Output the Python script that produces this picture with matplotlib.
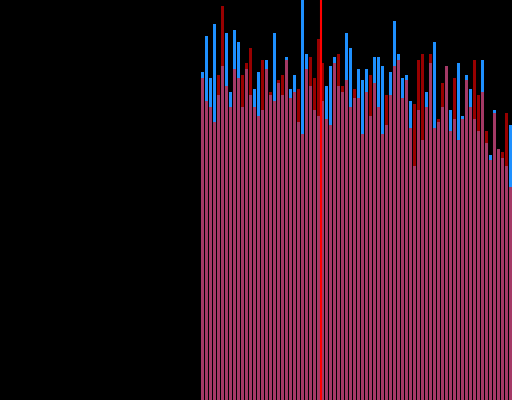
import matplotlib
matplotlib.use("Agg")
import matplotlib.pyplot as plt
import numpy as np

# pixel-height readings converted to values (0-400 scale)
blue_top = [72, 36, 78, 24, 95, 66, 33, 92, 30, 42, 107, 69, 95, 89, 72, 110, 60, 95, 33, 83,
            95, 57, 89, 75, 122, 0, 54, 86, 110, 116, 101, 86, 66, 57, 86, 92, 33, 48, 98, 69,
            80, 69, 116, 57, 57, 66, 125, 72, 21, 54, 78, 75, 101, 166, 110, 140, 92, 63, 42, 122,
            107, 66, 110, 119, 63, 116, 75, 89, 119, 131, 60, 143, 155, 110, 149, 158, 166, 125]
red_top = [78, 101, 107, 122, 75, 6, 86, 107, 69, 78, 75, 63, 48, 107, 116, 60, 69, 92, 101, 80,
           75, 60, 98, 92, 89, 134, 69, 57, 78, 39, 63, 119, 125, 63, 54, 86, 80, 107, 89, 98,
           134, 92, 75, 83, 107, 134, 95, 95, 66, 60, 98, 80, 128, 104, 60, 54, 107, 54, 128, 119,
           83, 66, 131, 78, 140, 119, 80, 107, 60, 95, 92, 131, 160, 113, 149, 152, 113, 187]

blue = [400 - v for v in blue_top]
red = [400 - v for v in red_top]
marker_x = 29.5

fig = plt.figure(figsize=(5.12, 4.0), dpi=100, facecolor="black")
ax = fig.add_axes([0, 0, 1, 1])
ax.set_facecolor("black")
x = np.arange(len(blue))
ax.bar(x, blue, width=0.75, color="#1E90FF", linewidth=0)
ax.bar(x, red, width=0.75, color="#FF0000", alpha=0.6, linewidth=0)
ax.axvline(marker_x, color="#FF0000", linewidth=1.5)
ax.set_xlim(-50.625, 77.375)
ax.set_ylim(0, 400)
ax.axis("off")
fig.savefig("out.png", dpi=100, facecolor="black")
